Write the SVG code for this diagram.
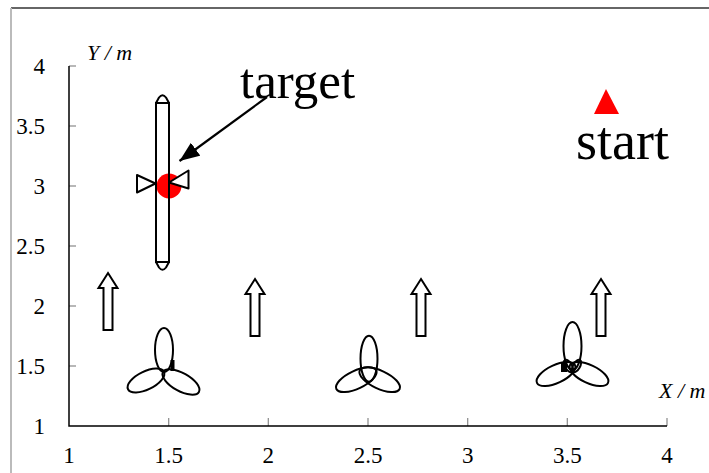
<svg xmlns="http://www.w3.org/2000/svg" width="709" height="473" viewBox="0 0 709 473">
  <defs>
    <style>
      .tick { stroke: #888; stroke-width: 1.2; }
      .axis { stroke: #000; stroke-width: 1.5; fill: none; }
      .num { font-family: "Liberation Serif", "Times New Roman", serif; font-size: 23px; fill: #000; }
      .unit { font-family: "Liberation Serif", "Times New Roman", serif; font-size: 22px; font-style: italic; fill: #000; }
      .big { font-family: "Liberation Serif", "Times New Roman", serif; fill: #000; }
      .outline { stroke: #000; stroke-width: 2; fill: #fff; stroke-linejoin: round; }
      .blade { stroke: #000; stroke-width: 2; fill: none; }
      .flow { stroke: #000; stroke-width: 2; fill: #fff; stroke-linejoin: miter; }
    </style>
    <marker id="head" markerUnits="userSpaceOnUse" markerWidth="20" markerHeight="16" refX="20" refY="8" orient="auto">
      <path d="M0,0 L20,8 L0,16 Z" fill="#000"/>
    </marker>
    <path id="upArrow" d="M0,0 L9.5,15 L4.5,15 L4.5,57 L-4.5,57 L-4.5,15 L-9.5,15 Z"/>
  </defs>

  <rect width="709" height="473" fill="#fff"/>

  <!-- outer frame -->
  <g id="frame">
    <line x1="11" y1="8" x2="709" y2="8" stroke="#666" stroke-width="2"/>
    <line x1="11" y1="8" x2="11" y2="473" stroke="#bbb" stroke-width="2"/>
  </g>

  <!-- axes -->
  <g id="axes">
    <g class="tick">
      <line x1="69" y1="66" x2="76" y2="66"/>
      <line x1="69" y1="126" x2="76" y2="126"/>
      <line x1="69" y1="186" x2="76" y2="186"/>
      <line x1="69" y1="246" x2="76" y2="246"/>
      <line x1="69" y1="306" x2="76" y2="306"/>
      <line x1="69" y1="366" x2="76" y2="366"/>
      <line x1="168.7" y1="426" x2="168.7" y2="418"/>
      <line x1="268.3" y1="426" x2="268.3" y2="418"/>
      <line x1="368" y1="426" x2="368" y2="418"/>
      <line x1="467.7" y1="426" x2="467.7" y2="418"/>
      <line x1="567.3" y1="426" x2="567.3" y2="418"/>
      <line x1="667" y1="426" x2="667" y2="418"/>
    </g>
    <polyline class="axis" points="69,66 69,426 667,426"/>
    <g class="num" text-anchor="end">
      <text x="45" y="74">4</text>
      <text x="45" y="134">3.5</text>
      <text x="45" y="194">3</text>
      <text x="45" y="254">2.5</text>
      <text x="45" y="314">2</text>
      <text x="45" y="374">1.5</text>
      <text x="45" y="434">1</text>
    </g>
    <g class="num" text-anchor="middle">
      <text x="69" y="463">1</text>
      <text x="168.7" y="463">1.5</text>
      <text x="268.3" y="463">2</text>
      <text x="368" y="463">2.5</text>
      <text x="467.7" y="463">3</text>
      <text x="567.3" y="463">3.5</text>
      <text x="667" y="463">4</text>
    </g>
    <text class="unit" x="87" y="60">Y / m</text>
    <text class="unit" x="659" y="398">X / m</text>
  </g>

  <!-- vehicle with target point -->
  <g id="vehicle">
    <circle cx="169" cy="186" r="12.5" fill="#f00"/>
    <rect x="156" y="103" width="13" height="159" fill="none" stroke="#000" stroke-width="2"/>
    <path class="outline" d="M156,103 L159,97.5 Q162.5,93 166,97.5 L169,103 Z"/>
    <path class="outline" d="M156,262 L159,267.5 Q162.5,272 166,267.5 L169,262 Z"/>
    <polygon class="outline" points="137,175 137,192.5 155.5,183.5"/>
    <polygon class="outline" points="188.5,170.5 188.5,188.5 169,182.5"/>
  </g>

  <g id="target-label">
    <text class="big" x="240" y="98" font-size="51">target</text>
  </g>

  <g id="start">
    <polygon points="606,89 594,114 619,114" fill="#f00"/>
    <text class="big" x="576" y="159" font-size="54">start</text>
  </g>

  <!-- current direction arrows -->
  <g id="flow-arrows" class="flow">
    <use href="#upArrow" x="108" y="273"/>
    <use href="#upArrow" x="255" y="279"/>
    <use href="#upArrow" x="421" y="279"/>
    <use href="#upArrow" x="601" y="279"/>
  </g>

  <!-- thrusters -->
  <g id="prop1" class="blade">
    <ellipse cx="164" cy="350" rx="9" ry="22"/>
    <ellipse cx="146" cy="380.5" rx="20" ry="9" transform="rotate(-26 146 380.5)"/>
    <ellipse cx="181" cy="382" rx="20.5" ry="9" transform="rotate(29 181 382)"/>
    <rect x="170.5" y="360" width="4" height="11" fill="#000" stroke="none"/>
  </g>
  <g id="prop2" class="blade">
    <ellipse cx="369" cy="358.7" rx="8.5" ry="23"/>
    <ellipse cx="356.3" cy="379.7" rx="22" ry="9" transform="rotate(-25 356.3 379.7)"/>
    <ellipse cx="379.7" cy="379.7" rx="22" ry="9" transform="rotate(25 379.7 379.7)"/>
  </g>
  <g id="prop3" class="blade">
    <ellipse cx="572.5" cy="346" rx="9" ry="24"/>
    <ellipse cx="556" cy="374" rx="21" ry="9" transform="rotate(-25 556 374)"/>
    <ellipse cx="589" cy="374" rx="21" ry="9" transform="rotate(25 589 374)"/>
    <ellipse cx="568.5" cy="366" rx="3.5" ry="7" transform="rotate(-30 568.5 366)"/>
    <ellipse cx="576.5" cy="366" rx="3.5" ry="7" transform="rotate(30 576.5 366)"/>
    <rect x="561" y="362" width="6" height="10" fill="#000" stroke="none"/>
  </g>

  <!-- connectors -->
  <g id="connectors">
    <line x1="267" y1="97" x2="179.5" y2="161" stroke="#000" stroke-width="2.2" marker-end="url(#head)"/>
  </g>
</svg>
